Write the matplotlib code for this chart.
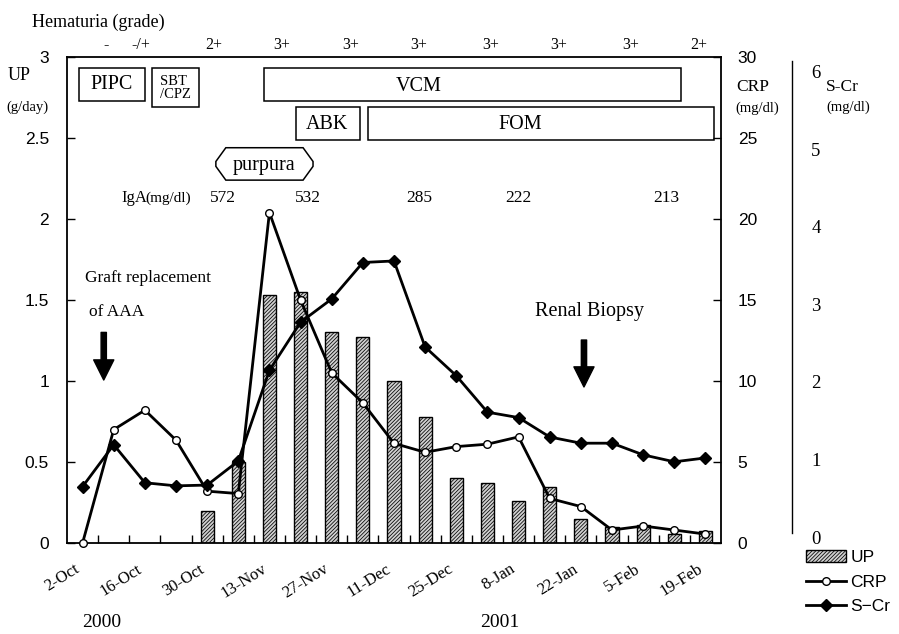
import numpy as np
import matplotlib
matplotlib.use("Agg")
import matplotlib.pyplot as plt
import matplotlib.transforms as mtrans
from matplotlib.patches import Rectangle, Polygon, Patch
from matplotlib.lines import Line2D

# weekly sampling dates, 2-Oct-2000 .. 19-Feb-2001
dates = ["2-Oct", "9-Oct", "16-Oct", "23-Oct", "30-Oct", "6-Nov", "13-Nov",
         "20-Nov", "27-Nov", "4-Dec", "11-Dec", "18-Dec", "25-Dec", "1-Jan",
         "8-Jan", "15-Jan", "22-Jan", "29-Jan", "5-Feb", "12-Feb", "19-Feb"]
up = [None, None, None, None, 0.20, 0.50, 1.53, 1.55, 1.30, 1.27, 1.00, 0.78,
      0.40, 0.37, 0.26, 0.345, 0.15, 0.10, 0.11, 0.055, 0.075]          # g/day
crp = [0, 7.0, 8.2, 6.35, 3.2, 3.05, 20.4, 15.0, 10.5, 8.65, 6.15, 5.6,
       5.95, 6.1, 6.55, 2.75, 2.25, 0.8, 1.05, 0.8, 0.55]               # mg/dl
scr = [0.65, 1.19, 0.70, 0.66, 0.67, 0.98, 2.15, 2.77, 3.07, 3.54, 3.56, 2.45,
       2.08, 1.61, 1.54, 1.29, 1.21, 1.21, 1.06, 0.97, 1.02]            # mg/dl

hematuria = ["-", "-/+", "2+", "3+", "3+", "3+", "3+", "3+", "3+", "2+"]
iga = ["572", "532", "285", "222", "213"]

# layout of the annotations (category index units)
hem_x = [0.77, 1.86, 4.2, 6.4, 8.6, 10.8, 13.1, 15.3, 17.6, 19.8]
iga_x = [4.5, 7.23, 10.8, 14.0, 18.75]
# drug boxes: name, x0, x1, y0, y1 (UP units)
drugs = [("PIPC", -0.10, 1.99, 2.73, 2.93),
         ("SBT\n/CPZ", 2.22, 3.73, 2.69, 2.93),
         ("VCM", 5.82, 19.23, 2.73, 2.93),
         ("ABK", 6.85, 8.91, 2.49, 2.69),
         ("FOM", 9.16, 20.26, 2.49, 2.69)]

SERIF = "Liberation Serif"
SANS = "Liberation Sans"
plt.rcParams["font.family"] = SERIF
plt.rcParams["hatch.linewidth"] = 0.55

fig = plt.figure(figsize=(8.99, 6.34), dpi=100)
ax = fig.add_axes([67/899, 1-543/634, (721-67)/899, (543-57)/634])
ax2 = ax.twinx()
ax3 = ax.twinx()

x = np.arange(len(dates))

# UP bars
bx = [i for i, v in enumerate(up) if v is not None]
bh = [v for v in up if v is not None]
ax.bar(bx, bh, width=0.42, facecolor="#d0d0d0", edgecolor="black",
       linewidth=1.0, hatch="/////////", zorder=2)
ax.set_xlim(-0.5, len(dates)-0.5)
ax.set_ylim(0, 3)
ax.set_yticks(np.arange(0, 3.01, 0.5))
ax.set_yticklabels(["0", "0.5", "1", "1.5", "2", "2.5", "3"], family=SANS, fontsize=12.5)
ax.tick_params(axis="y", direction="in", length=6, width=1, pad=13)
ax.set_xticks(x[::2])
ax.set_xticklabels(dates[::2], rotation=32, ha="right", va="top", fontsize=12)
ax.tick_params(axis="x", length=0, pad=13)
ax.set_xticks(np.arange(0.5, len(dates)-1, 1), minor=True)
ax.tick_params(axis="x", which="minor", direction="in", length=6, width=1)
for s in ax.spines.values():
    s.set_linewidth(1.3)

# CRP
ax2.plot(x, crp, color="black", lw=2, marker="o", ms=5.5, mfc="white",
         mec="black", mew=1, clip_on=False, zorder=3)
ax2.set_ylim(0, 30)
ax2.set_yticks(range(0, 31, 5))
ax2.set_yticklabels([str(v) for v in range(0, 31, 5)], family=SANS, fontsize=12.5)
ax2.tick_params(axis="y", direction="in", length=6, width=1, pad=12)
for s in ax2.spines.values():
    s.set_visible(False)

# S-Cr on its own hand-drawn axis
ax3.plot(x, scr, color="black", lw=2, marker="D", ms=6, mfc="black",
         mec="black", clip_on=False, zorder=3)
ax3.set_ylim(-0.077, 6.19)
for k, s in ax3.spines.items():
    s.set_visible(k == "right")
ax3.spines["right"].set_position(("outward", 51))
ax3.spines["right"].set_bounds(0.05, 6.14)
ax3.spines["right"].set_linewidth(1.0)
ax3.set_yticks(range(0, 7))
ax3.set_yticklabels([str(v) for v in range(0, 7)], family=SERIF, fontsize=13.5)
ax3.tick_params(axis="y", length=0, pad=14)

# drug boxes
for name, x0, x1, y0, y1 in drugs:
    ax.add_patch(Rectangle((x0, y0), x1-x0, y1-y0, fill=False, ec="black",
                           lw=1.1, clip_on=False))
ax.text(0.93, 2.83, "PIPC", ha="center", va="center", fontsize=14.5)
ax.text(2.5, 2.81, "SBT\n/CPZ", ha="left", va="center", fontsize=10.5, linespacing=1.0)
ax.text(10.8, 2.82, "VCM", ha="center", va="center", fontsize=14.5)
ax.text(7.85, 2.585, "ABK", ha="center", va="center", fontsize=14.5)
ax.text(14.05, 2.585, "FOM", ha="center", va="center", fontsize=14.5)

# purpura octagon
px0, px1, py0, py1, cx, cy = 4.28, 7.40, 2.24, 2.44, 0.32, 0.085
ax.add_patch(Polygon([(px0+cx, py1), (px1-cx, py1), (px1, py1-cy), (px1, py0+cy),
                      (px1-cx, py0), (px0+cx, py0), (px0, py0+cy), (px0, py1-cy)],
                     closed=True, fill=False, ec="black", lw=1.1))
ax.text(5.84, 2.33, "purpura", ha="center", va="center", fontsize=14.5)

# IgA row
ax.text(1.25, 2.13, "IgA", ha="left", va="center", fontsize=12)
ax.text(2.02, 2.13, "(mg/dl)", ha="left", va="center", fontsize=11)
for v, xp in zip(iga, iga_x):
    ax.text(xp, 2.13, v, ha="center", va="center", fontsize=12.5)

# hematuria grades above the plot
for g, xp in zip(hematuria, hem_x):
    ax.text(xp, 3.075, g, ha="center", va="center", fontsize=11.5, clip_on=False)
fig.text(32/899, 1-22/634, "Hematuria (grade)", ha="left", va="center", fontsize=13)

# events
ax.text(2.1, 1.636, "Graft replacement", ha="center", va="center", fontsize=12.5)
ax.text(1.08, 1.426, "of AAA", ha="center", va="center", fontsize=12.5)
ax.text(16.27, 1.426, "Renal Biopsy", ha="center", va="center", fontsize=14.5)
arrow = dict(arrowstyle="simple,head_width=1.45,head_length=1.45,tail_width=0.38",
             fc="black", ec="black", shrinkA=0, shrinkB=0, mutation_scale=10)
ax.annotate("", xy=(0.68, 1.006), xytext=(0.68, 1.30), arrowprops=arrow)
ax.annotate("", xy=(16.1, 0.963), xytext=(16.1, 1.253), arrowprops=arrow)

# axis titles
fig.text(8/899, 1-75/634, "UP", ha="left", va="center", fontsize=13)
fig.text(6/899, 1-107/634, "(g/day)", ha="left", va="center", fontsize=10.5)
fig.text(736/899, 1-87/634, "CRP", ha="left", va="center", fontsize=12.5)
fig.text(735/899, 1-108/634, "(mg/dl)", ha="left", va="center", fontsize=10.5)
fig.text(826/899, 1-87/634, "S-Cr", ha="left", va="center", fontsize=12.5)
fig.text(826/899, 1-107/634, "(mg/dl)", ha="left", va="center", fontsize=10.5)

# years
tr = mtrans.blended_transform_factory(ax.transData, ax.transAxes)
ax.text(0.61, -0.163, "2000", transform=tr, ha="center", va="center", fontsize=14)
ax.text(13.4, -0.163, "2001", transform=tr, ha="center", va="center", fontsize=14)

# legend
handles = [Patch(facecolor="#d0d0d0", edgecolor="black", hatch="/////////", lw=1),
           Line2D([], [], color="black", lw=2, marker="o", ms=5.5, mfc="white", mec="black"),
           Line2D([], [], color="black", lw=2, marker="D", ms=6, mfc="black")]
fig.legend(handles, ["UP", "CRP", "S\u2212Cr"], loc="center left",
           bbox_to_anchor=(806/899, 1-582/634), frameon=False,
           prop={"family": SANS, "size": 12.5}, handlelength=2.3,
           handletextpad=0.25, labelspacing=0.55, borderpad=0, borderaxespad=0)

fig.savefig("out.png", dpi=100)
